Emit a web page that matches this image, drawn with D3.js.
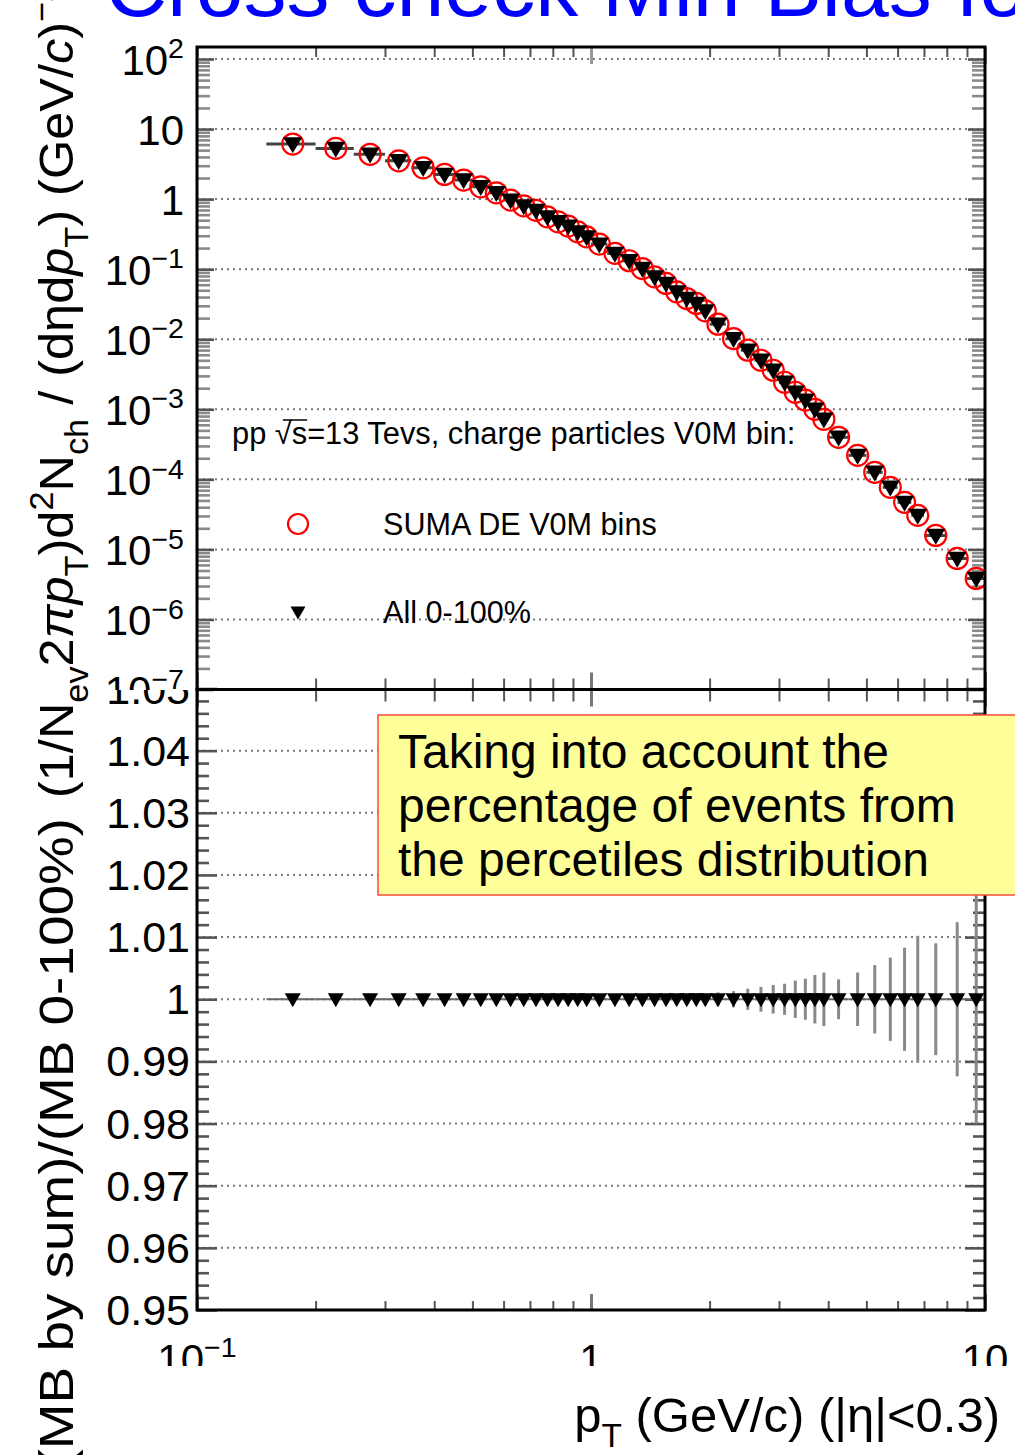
<!DOCTYPE html>
<html>
<head>
<meta charset="utf-8">
<script src="https://cdn.jsdelivr.net/npm/d3@7"></script>
<style>
  body { margin: 0; background: #fff; }
  svg { display: block; }
  text { font-family: "Liberation Sans", Arial, Helvetica, sans-serif; }
</style>
</head>
<body>
<svg id="chart" width="1015" height="1455"></svg>
<script>
// ---- data -----------------------------------------------------------------
// pT bin edges and centres (GeV/c)
const ptEdges = [0.15,0.2,0.25,0.3,0.35,0.4,0.45,0.5,0.55,0.6,0.65,0.7,0.75,0.8,0.85,0.9,0.95,1.0,
  1.1,1.2,1.3,1.4,1.5,1.6,1.7,1.8,1.9,2.0,2.2,2.4,2.6,2.8,3.0,3.2,3.4,3.6,3.8,4.0,
  4.5,5.0,5.5,6.0,6.5,7.0,8.0,9.0,10.0];
const ptCenters = [0.175,0.225,0.275,0.325,0.375,0.425,0.475,0.525,0.575,0.625,0.675,0.725,0.775,0.825,0.875,0.925,0.975,
  1.05,1.15,1.25,1.35,1.45,1.55,1.65,1.75,1.85,1.95,2.1,2.3,2.5,2.7,2.9,3.1,3.3,3.5,3.7,3.9,
  4.25,4.75,5.25,5.75,6.25,6.75,7.5,8.5,9.5];

// invariant yield, sum of V0M multiplicity bins
const sumaV0M = [6.11,5.30,4.36,3.52,2.80,2.25,1.87,1.50,1.23,0.968,0.80,0.69,0.558,0.474,0.411,0.341,0.289,
  0.228,0.168,0.132,0.102,0.0776,0.0625,0.0474,0.0381,0.0324,0.0254,0.0164,0.0102,0.00697,0.00501,0.00361,
  0.00243,0.00175,0.00135,0.00100,0.00072,0.000398,0.000220,0.000126,7.69e-5,4.69e-5,3.06e-5,1.58e-5,7.43e-6,3.85e-6];
// invariant yield, minimum bias 0-100%
const all0to100 = [6.11,5.30,4.36,3.52,2.80,2.25,1.87,1.50,1.23,0.968,0.80,0.69,0.558,0.474,0.411,0.341,0.289,
  0.228,0.168,0.132,0.102,0.0776,0.0625,0.0474,0.0381,0.0324,0.0254,0.0164,0.0102,0.00697,0.00501,0.00361,
  0.00243,0.00175,0.00135,0.00100,0.00072,0.000398,0.000220,0.000126,7.69e-5,4.69e-5,3.06e-5,1.58e-5,7.43e-6,3.85e-6];

// ratio (MB by sum)/(MB 0-100%) and its uncertainty
const ratio = [1,1,1,1,1,1,1,1,1,1,1,1,1,1,1,1,1, 1,1,1,1,1,1,1,1,1,1, 1,1,1,1,1,1,1,1,1,1, 1,1,1,1,1,1, 1,1,1];
const ratioErr = [0.0002,0.0002,0.0002,0.0002,0.0002,0.0002,0.0002,0.0002,0.0003,0.0003,0.0003,0.0003,0.0003,0.0003,0.0003,0.0004,0.0004,
  0.0004,0.0005,0.0005,0.0006,0.0006,0.0007,0.0007,0.0008,0.0009,0.0009,
  0.0011,0.0013,0.0017,0.0020,0.0023,0.0025,0.0030,0.0033,0.0039,0.0043,
  0.0032,0.0043,0.0055,0.0067,0.0083,0.0102,
  0.0090,0.0124,0.0200];

// axis ticks and labels
const xMajor = [0.1, 1, 10];
const xMajorLabels = [["10","−1"], ["1",""], ["10",""]];
const yTopMajor = [1e2,1e1,1e0,1e-1,1e-2,1e-3,1e-4,1e-5,1e-6,1e-7];
const yTopLabels = [["10","2"],["10",""],["1",""],["10","−1"],["10","−2"],["10","−3"],["10","−4"],["10","−5"],["10","−6"],["10","−7"]];
const yBotMajor = [0.95,0.96,0.97,0.98,0.99,1.00,1.01,1.02,1.03,1.04,1.05];
const yBotLabels = ["0.95","0.96","0.97","0.98","0.99","1","1.01","1.02","1.03","1.04","1.05"];
const yBotGrid = [0.96,0.97,0.98,0.99,1.00,1.01,1.02,1.03,1.04];

const titleText = "Cross check Min Bias for V0M bins";
const legendHeader = ["pp ", "√", "s", "=13 Tevs, charge particles V0M bin:"];
const legendEntries = ["SUMA DE V0M bins", "All 0-100%"];
const noteLines = ["Taking into account the", "percentage of events from", "the percetiles distribution"];

// ---- layout ---------------------------------------------------------------
const svg = d3.select("#chart");
const L = 197, R = 985;
const topT = 47, topB = 689.5, botB = 1310;

const x = d3.scaleLog().domain([0.1, 10]).range([L, R]);
const yTop = d3.scaleLog().domain([1e-7, 148.4]).range([topB, topT]);
const yBot = d3.scaleLinear().domain([0.95, 1.05]).range([botB, topB - 1]);

const defs = svg.append("defs");
defs.append("clipPath").attr("id", "clipTop").append("rect").attr("x", L).attr("y", topT).attr("width", R - L).attr("height", topB - topT);
defs.append("clipPath").attr("id", "clipBot").append("rect").attr("x", L).attr("y", topB).attr("width", R - L).attr("height", botB - topB);
defs.append("clipPath").attr("id", "clipTopLab").append("rect").attr("x", 0).attr("y", 0).attr("width", 196).attr("height", 690);
defs.append("clipPath").attr("id", "clipBotLab").append("rect").attr("x", 0).attr("y", 690).attr("width", 196).attr("height", 700);
defs.append("clipPath").attr("id", "clipXLab").append("rect").attr("x", 0).attr("y", 1320).attr("width", 1015).attr("height", 46);

const GRID = "#7a7a7a";

// rich text with sub/superscripts
function rich(textSel, parts, fs) {
  let cur = 0;
  parts.forEach(p => {
    const shift = p.sub ? 0.30 * fs : p.sup ? -0.40 * fs : 0;
    const ts = textSel.append("tspan").text(p.t).attr("dy", shift - cur)
      .attr("font-size", (p.sub || p.sup) ? fs * 0.68 : fs);
    if (p.it) ts.attr("font-style", "italic");
    cur = shift;
  });
}

// ---- title ----------------------------------------------------------------
svg.append("text").attr("x", 105).attr("y", 16).attr("font-size", 86).attr("fill", "#0000ff").text(titleText);

// ---- gridlines ------------------------------------------------------------
const gTop = svg.append("g");
gTop.selectAll("line.g").data(yTopMajor.slice(0, 9)).join("line")
  .attr("x1", L).attr("x2", R).attr("y1", d => yTop(d)).attr("y2", d => yTop(d))
  .attr("stroke", GRID).attr("stroke-width", 2).attr("stroke-dasharray", "2,4");
const gBot = svg.append("g");
gBot.selectAll("line.g").data(yBotGrid).join("line")
  .attr("x1", L).attr("x2", R).attr("y1", d => yBot(d)).attr("y2", d => yBot(d))
  .attr("stroke", GRID).attr("stroke-width", 2).attr("stroke-dasharray", "2,4");

// ---- tick marks via d3 axes ------------------------------------------------
const isDecade = v => Math.abs(Math.log10(v) - Math.round(Math.log10(v))) < 1e-6;
const xMinor = x.ticks().filter(v => !isDecade(v));
const yTopMinor = yTop.ticks().filter(v => !isDecade(v));
const yBotMinor = d3.range(0, 51).map(i => 0.95 + i * 0.002).filter(v => Math.abs(v * 100 - Math.round(v * 100)) > 1e-6);

function drawAxis(axisFn, scale, values, size, pos, color, width) {
  const g = svg.append("g").attr("transform", pos)
    .call(axisFn(scale).tickValues(values).tickSize(size).tickFormat(""));
  g.select(".domain").remove();
  g.selectAll(".tick line").attr("stroke", color).attr("stroke-width", width);
  return g;
}
const MINC = "#8a8a8a", MAJC = "#555";
// upper panel
drawAxis(d3.axisRight, yTop, yTopMinor, 13, `translate(${L},0)`, MINC, 2.6);
drawAxis(d3.axisRight, yTop, yTopMajor, 17, `translate(${L},0)`, MAJC, 2.6);
drawAxis(d3.axisLeft, yTop, yTopMinor, 13, `translate(${R},0)`, MINC, 2.6);
drawAxis(d3.axisLeft, yTop, yTopMajor, 17, `translate(${R},0)`, MAJC, 2.6);
drawAxis(d3.axisBottom, x, xMinor, 10, `translate(0,${topT})`, MAJC, 2);
drawAxis(d3.axisBottom, x, xMajor, 17, `translate(0,${topT})`, "#999", 3);
drawAxis(d3.axisTop, x, xMinor, 11, `translate(0,${topB})`, MAJC, 2);
drawAxis(d3.axisTop, x, xMajor, 17, `translate(0,${topB})`, "#777", 3);
// lower panel
drawAxis(d3.axisBottom, x, xMinor, 12, `translate(0,${topB})`, MAJC, 2);
drawAxis(d3.axisBottom, x, xMajor, 17, `translate(0,${topB})`, "#777", 3);
drawAxis(d3.axisTop, x, xMinor, 9, `translate(0,${botB})`, MAJC, 2);
drawAxis(d3.axisTop, x, xMajor, 16, `translate(0,${botB})`, "#777", 3);
drawAxis(d3.axisRight, yBot, yBotMinor, 12, `translate(${L},0)`, MAJC, 2.6);
drawAxis(d3.axisRight, yBot, yBotMajor, 20, `translate(${L},0)`, MAJC, 2.6);
drawAxis(d3.axisLeft, yBot, yBotMinor, 12, `translate(${R},0)`, MAJC, 2.6);
drawAxis(d3.axisLeft, yBot, yBotMajor, 20, `translate(${R},0)`, MAJC, 2.6);

// ---- upper panel data --------------------------------------------------------
const triPath = (w, h) => `M${-w / 2},${-h * 0.42}L${w / 2},${-h * 0.42}L0,${h * 0.58}Z`;
const pTop = svg.append("g").attr("clip-path", "url(#clipTop)");
pTop.selectAll("line.ex").data(ptCenters).join("line")
  .attr("x1", (d, i) => x(ptEdges[i])).attr("x2", (d, i) => x(ptEdges[i + 1]))
  .attr("y1", (d, i) => yTop(all0to100[i])).attr("y2", (d, i) => yTop(all0to100[i]))
  .attr("stroke", "#444").attr("stroke-width", 3);
pTop.selectAll("circle.s").data(ptCenters).join("circle")
  .attr("cx", d => x(d)).attr("cy", (d, i) => yTop(sumaV0M[i])).attr("r", 10.5)
  .attr("fill", "none").attr("stroke", "#ff0000").attr("stroke-width", 2.2);
pTop.selectAll("path.t").data(ptCenters).join("path")
  .attr("transform", (d, i) => `translate(${x(d)},${yTop(all0to100[i])})`)
  .attr("d", triPath(19, 16)).attr("fill", "#000");

// ---- lower panel data --------------------------------------------------------
const pBot = svg.append("g").attr("clip-path", "url(#clipBot)");
pBot.selectAll("line.ex").data(ptCenters).join("line")
  .attr("x1", (d, i) => x(ptEdges[i])).attr("x2", (d, i) => x(ptEdges[i + 1]))
  .attr("y1", (d, i) => yBot(ratio[i])).attr("y2", (d, i) => yBot(ratio[i]))
  .attr("stroke", "#666").attr("stroke-width", 2);
pBot.selectAll("line.ey").data(ptCenters).join("line")
  .attr("x1", d => x(d)).attr("x2", d => x(d))
  .attr("y1", (d, i) => yBot(ratio[i] + ratioErr[i])).attr("y2", (d, i) => yBot(ratio[i] - ratioErr[i]))
  .attr("stroke", "#888").attr("stroke-width", 3);
pBot.selectAll("path.t").data(ptCenters).join("path")
  .attr("transform", (d, i) => `translate(${x(d)},${yBot(ratio[i])})`)
  .attr("d", triPath(16, 14)).attr("fill", "#000");

// ---- frames -------------------------------------------------------------------
svg.append("rect").attr("x", L).attr("y", topT).attr("width", R - L).attr("height", topB - topT)
  .attr("fill", "none").attr("stroke", "#000").attr("stroke-width", 3);
svg.append("rect").attr("x", L).attr("y", topB).attr("width", R - L).attr("height", botB - topB)
  .attr("fill", "none").attr("stroke", "#000").attr("stroke-width", 3);

// ---- tick labels ------------------------------------------------------------------
const labTop = svg.append("g").attr("clip-path", "url(#clipTopLab)");
yTopMajor.forEach((v, i) => {
  const t = labTop.append("text").attr("x", 184).attr("y", yTop(v) + 16).attr("text-anchor", "end");
  const [b, e] = yTopLabels[i];
  if (e) rich(t, [{ t: b }, { t: e, sup: true }], 42);
  else rich(t, [{ t: b }], 42);
});
const labBot = svg.append("g").attr("clip-path", "url(#clipBotLab)");
yBotMajor.forEach((v, i) => {
  labBot.append("text").attr("x", 190).attr("y", yBot(v) + 15).attr("text-anchor", "end")
    .attr("font-size", 43).text(yBotLabels[i]);
});
const labX = svg.append("g").attr("clip-path", "url(#clipXLab)");
xMajor.forEach((v, i) => {
  const t = labX.append("text").attr("x", x(v)).attr("y", 1374).attr("text-anchor", "middle");
  const [b, e] = xMajorLabels[i];
  if (e) rich(t, [{ t: b }, { t: e, sup: true }], 42);
  else rich(t, [{ t: b }], 42);
});

// ---- axis titles -------------------------------------------------------------------
const xt = svg.append("text").attr("x", 1000).attr("y", 1432).attr("text-anchor", "end");
rich(xt, [{ t: "p" }, { t: "T", sub: true }, { t: " (GeV/c) (|η|<0.3)" }], 49);

const ytTop = svg.append("text").attr("transform", "translate(73,798) rotate(-90) scale(1.03,1)");
rich(ytTop, [{ t: "(1/N" }, { t: "ev", sub: true }, { t: "2" }, { t: "πp", it: true }, { t: "T", sub: true },
  { t: ")d" }, { t: "2", sup: true }, { t: "N" }, { t: "ch", sub: true }, { t: " / (dηd" }, { t: "p", it: true },
  { t: "T", sub: true }, { t: ") (GeV/" }, { t: "c", it: true }, { t: ")" }, { t: "−2", sup: true }], 49);

svg.append("text").attr("transform", "translate(73,818) rotate(-90) scale(1.12,1)").attr("text-anchor", "end")
  .attr("font-size", 49).text("(MB by sum)/(MB 0-100%)");

// ---- legend -------------------------------------------------------------------------
const lh = svg.append("text").attr("x", 232).attr("y", 444).attr("font-size", 30.8);
legendHeader.forEach(s => lh.append("tspan").text(s));
{
  const node = lh.node();
  const sx0 = node.getSubStringLength(0, 4) + 232;
  const sw = node.getSubStringLength(4, 1);
  const rx0 = node.getSubStringLength(0, 3) + 232;
  svg.append("line").attr("x1", rx0 + 8).attr("x2", sx0 + sw).attr("y1", 420).attr("y2", 420)
    .attr("stroke", "#000").attr("stroke-width", 1.5);
}
svg.append("circle").attr("cx", 298).attr("cy", 524).attr("r", 10)
  .attr("fill", "none").attr("stroke", "#ff0000").attr("stroke-width", 2.2);
svg.append("text").attr("x", 383).attr("y", 535).attr("font-size", 30.6).text(legendEntries[0]);
svg.append("path").attr("transform", "translate(298,612)").attr("d", triPath(15, 13)).attr("fill", "#000");
svg.append("text").attr("x", 383).attr("y", 623).attr("font-size", 30.6).text(legendEntries[1]);

// ---- note box ---------------------------------------------------------------------------
svg.append("rect").attr("x", 378).attr("y", 715).attr("width", 700).attr("height", 180)
  .attr("fill", "#ffff99").attr("stroke", "#ff4a3a").attr("stroke-width", 1.5);
noteLines.forEach((s, i) => {
  svg.append("text").attr("x", 398).attr("y", 768 + i * 54).attr("font-size", 48).attr("fill", "#000").text(s);
});
</script>
</body>
</html>
